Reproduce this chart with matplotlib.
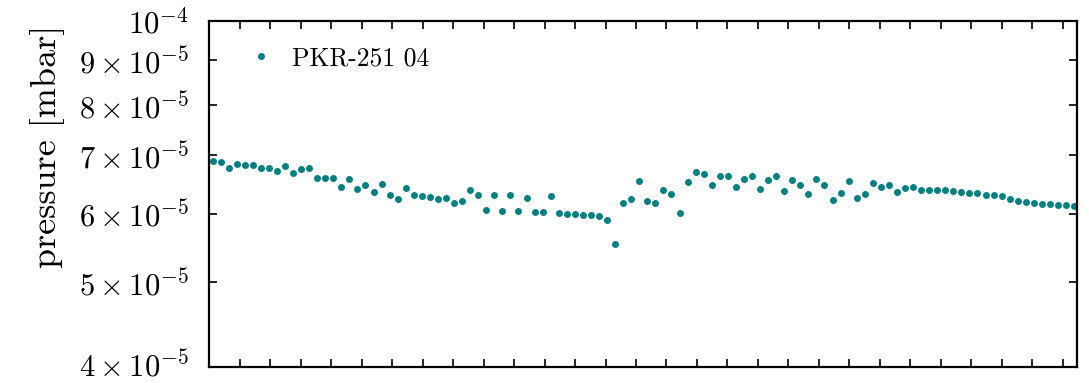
import matplotlib
matplotlib.use("Agg")
import matplotlib.pyplot as plt
import matplotlib.transforms as mtransforms
import numpy as np

plt.rcParams['font.family'] = 'cmr10'
plt.rcParams['mathtext.fontset'] = 'cm'
plt.rcParams['axes.unicode_minus'] = False

# pressure readings in units of 1e-5 mbar
pressure = [
    6.90, 6.87, 6.77, 6.84, 6.82, 6.82, 6.77, 6.77, 6.72, 6.81,
    6.68, 6.75, 6.77, 6.59, 6.59, 6.59, 6.43, 6.57, 6.40, 6.47,
    6.35, 6.49, 6.30, 6.24, 6.42, 6.30, 6.29, 6.27, 6.23, 6.25,
    6.17, 6.20, 6.38, 6.31, 6.06, 6.30, 6.04, 6.30, 6.04, 6.26,
    6.03, 6.02, 6.28, 6.01, 5.99, 5.99, 5.98, 5.97, 5.96, 5.90,
    5.53, 6.17, 6.24, 6.54, 6.21, 6.17, 6.38, 6.32, 6.01, 6.52,
    6.69, 6.66, 6.48, 6.63, 6.62, 6.43, 6.58, 6.62, 6.40, 6.55,
    6.62, 6.37, 6.56, 6.48, 6.32, 6.57, 6.47, 6.22, 6.34, 6.54,
    6.26, 6.32, 6.51, 6.43, 6.48, 6.36, 6.42, 6.44, 6.38, 6.39,
    6.39, 6.38, 6.37, 6.35, 6.34, 6.33, 6.31, 6.30, 6.28, 6.23,
    6.20, 6.19, 6.17, 6.16, 6.15, 6.14, 6.13, 6.12,
]
t_start = 0.105   # hours
t_step = 0.2642   # sampling interval, hours
time = t_start + t_step * np.arange(len(pressure))

ytick_vals = [4e-5, 5e-5, 6e-5, 7e-5, 8e-5, 9e-5, 1e-4]
ytick_labels = [r'$4\times10^{-5}$', r'$5\times10^{-5}$', r'$6\times10^{-5}$',
                r'$7\times10^{-5}$', r'$8\times10^{-5}$', r'$9\times10^{-5}$',
                r'$10^{-4}$']

fig = plt.figure(figsize=(10.89, 3.83), dpi=100)
ax = fig.add_axes([0.1922, 0.0426, 0.7965, 0.9034])

ax.plot(time, np.array(pressure) * 1e-5, 'o', color='#008080', ms=5,
        mec='none', label='PKR-251 04')

ax.set_yscale('log')
ax.set_ylim(4e-5, 1e-4)
ax.set_yticks(ytick_vals)
ax.set_yticklabels(ytick_labels)
ax.yaxis.set_minor_locator(matplotlib.ticker.NullLocator())

ax.set_xlim(0, 28.46)
ax.set_xticks(np.arange(1, 29))
ax.set_xticklabels([])

ax.tick_params(axis='both', direction='in', top=True, right=True,
               length=5.5, width=1.2, labelsize=22, pad=15)
for s in ax.spines.values():
    s.set_linewidth(1.6)

# bottom label sits right at the figure edge, nudge it up a little
lbl = ax.get_yticklabels()[0]
lbl.set_transform(lbl.get_transform() +
                  mtransforms.ScaledTranslation(0, 2.5 / 72, fig.dpi_scale_trans))

ax.set_ylabel('pressure [mbar]', fontsize=26)
ax.yaxis.set_label_coords(-0.166, 0.638)

leg = ax.legend(loc='upper left', frameon=False, fontsize=18.5,
                handletextpad=0.45, borderaxespad=0.6,
                handlelength=1.5, bbox_to_anchor=(0.008, 1.0))

fig.savefig('out.png', dpi=100)
